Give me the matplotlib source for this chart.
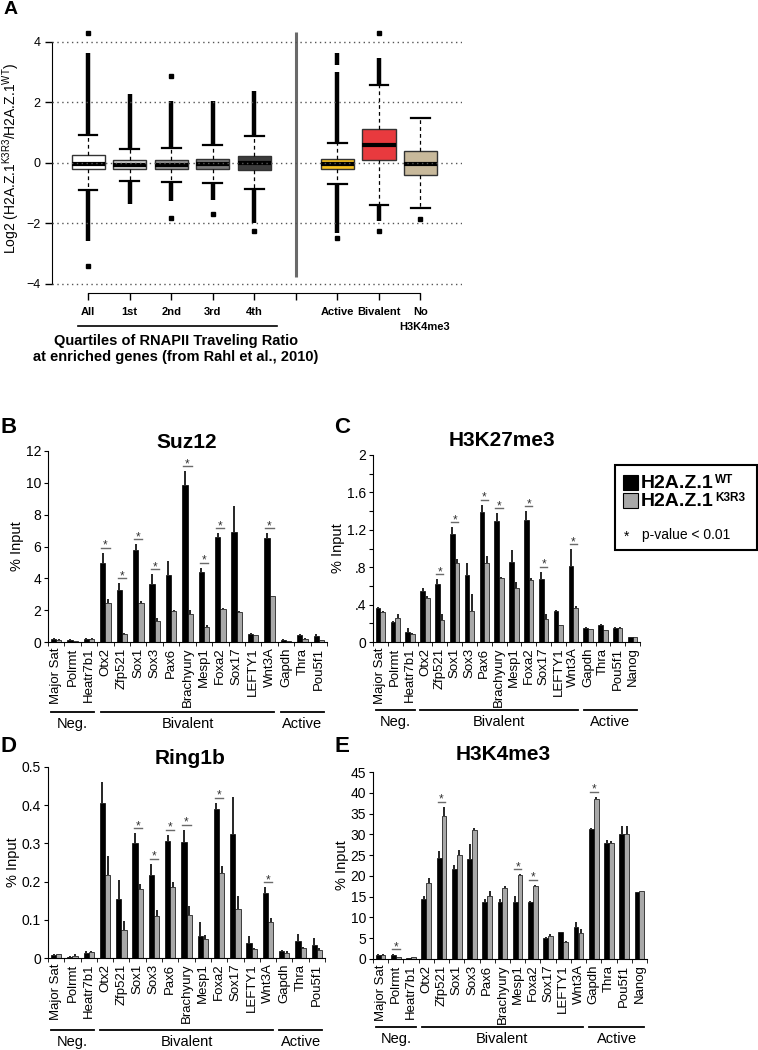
import numpy as np
import matplotlib
matplotlib.use('Agg')
import matplotlib.pyplot as plt
from matplotlib.patches import Rectangle
from matplotlib.text import Annotation
from matplotlib.transforms import blended_transform_factory, offset_copy

plt.rcParams['font.family'] = ['Liberation Sans', 'DejaVu Sans']
plt.rcParams['mathtext.fontset'] = 'custom'
plt.rcParams['mathtext.rm'] = 'Liberation Sans'
plt.rcParams['mathtext.bf'] = 'Liberation Sans:bold'

W, H = 758, 1050

# ---------------- panel A : boxplots ----------------
box_names = ['All', '1st', '2nd', '3rd', '4th', 'Active', 'Bivalent', 'No\nH3K4me3']
box_pos = [1, 2, 3, 4, 5, 7, 8, 9]
q1 = [-0.22, -0.20, -0.22, -0.22, -0.23, -0.22, 0.09, -0.41]
med = [-0.03, -0.08, -0.08, -0.05, -0.02, -0.05, 0.58, -0.04]
q3 = [0.25, 0.08, 0.09, 0.11, 0.22, 0.14, 1.10, 0.38]
whislo = [-0.90, -0.60, -0.63, -0.66, -0.88, -0.71, -1.40, -1.50]
whishi = [0.93, 0.47, 0.49, 0.60, 0.87, 0.66, 2.58, 1.48]
# dense outlier runs (lo, hi) and isolated outliers
out_runs = [[(0.93, 3.63), (-2.58, -0.90)],
            [(0.47, 2.27), (-1.35, -0.60)],
            [(0.49, 2.03), (-1.26, -0.63)],
            [(0.60, 2.05), (-1.23, -0.66)],
            [(0.87, 2.38), (-1.98, -0.88)],
            [(0.66, 2.99), (3.24, 3.63), (-2.31, -0.71)],
            [(2.58, 3.46), (-1.92, -1.40)],
            []]
out_pts = [[4.29, -3.41], [], [2.88, -1.81], [-1.70], [-2.25], [-2.50], [4.29, -2.25], [-1.87]]
box_colors = ['white', '#d6d6d6', '#9c9c9c', '#7a7a7a', '#3c3c3c', '#f5c020', '#e83a3e', '#c8b99b']
a_yticks = [-4, -2, 0, 2, 4]

# ---------------- bar panels ----------------
genes = ['Major Sat', 'Polrmt', 'Heatr7b1', 'Otx2', 'Zfp521', 'Sox1', 'Sox3', 'Pax6',
         'Brachyury', 'Mesp1', 'Foxa2', 'Sox17', 'LEFTY1', 'Wnt3A', 'Gapdh', 'Thra', 'Pou5f1']
genes_n = genes + ['Nanog']
group_names = ['Neg.', 'Bivalent', 'Active']

# B  Suz12
suz_wt = [0.20, 0.12, 0.20, 4.98, 3.25, 5.80, 3.66, 4.23, 9.84, 4.38, 6.60, 6.91, 0.52, 6.51, 0.15, 0.45, 0.40]
suz_wt_err = [0.05, 0.04, 0.05, 0.62, 0.45, 0.33, 0.59, 0.84, 0.88, 0.29, 0.25, 1.61, 0.06, 0.34, 0.03, 0.05, 0.10]
suz_ko = [0.15, 0.07, 0.20, 2.47, 0.52, 2.47, 1.32, 1.95, 1.74, 0.94, 2.09, 1.88, 0.42, 2.87, 0.07, 0.20, 0.10]
suz_ko_err = [0.02, 0.02, 0.02, 0.21, 0.06, 0.13, 0.21, 0.03, 0.29, 0.11, 0.03, 0.04, 0.03, 0.03, 0.02, 0.03, 0.03]
suz_star = ['Otx2', 'Zfp521', 'Sox1', 'Sox3', 'Brachyury', 'Mesp1', 'Foxa2', 'Wnt3A']

# C  H3K27me3
k27_wt = [0.36, 0.21, 0.11, 0.55, 0.62, 1.16, 0.72, 1.39, 1.29, 0.86, 1.30, 0.67, 0.33, 0.81, 0.15, 0.18, 0.15, 0.05]
k27_wt_err = [0.01, 0.01, 0.04, 0.03, 0.05, 0.07, 0.13, 0.08, 0.09, 0.12, 0.10, 0.08, 0.01, 0.18, 0.01, 0.01, 0.01, 0.0]
k27_ko = [0.32, 0.26, 0.09, 0.47, 0.24, 0.84, 0.33, 0.84, 0.68, 0.58, 0.66, 0.25, 0.18, 0.36, 0.14, 0.13, 0.15, 0.05]
k27_ko_err = [0.01, 0.04, 0.01, 0.02, 0.06, 0.05, 0.18, 0.08, 0.02, 0.06, 0.02, 0.05, 0.0, 0.03, 0.0, 0.0, 0.01, 0.0]
k27_star = ['Zfp521', 'Sox1', 'Pax6', 'Brachyury', 'Foxa2', 'Sox17', 'Wnt3A']

# D  Ring1b
ring_wt = [0.009, 0.003, 0.012, 0.407, 0.155, 0.300, 0.216, 0.305, 0.303, 0.057, 0.391, 0.325, 0.039, 0.170, 0.019, 0.044, 0.035]
ring_wt_err = [0.001, 0.001, 0.006, 0.053, 0.050, 0.026, 0.031, 0.018, 0.033, 0.036, 0.016, 0.096, 0.019, 0.016, 0.002, 0.019, 0.017]
ring_ko = [0.010, 0.006, 0.016, 0.218, 0.074, 0.181, 0.109, 0.185, 0.113, 0.050, 0.222, 0.127, 0.024, 0.094, 0.014, 0.027, 0.020]
ring_ko_err = [0.001, 0.004, 0.002, 0.048, 0.024, 0.014, 0.016, 0.014, 0.022, 0.011, 0.018, 0.034, 0.002, 0.012, 0.004, 0.002, 0.005]
ring_star = ['Sox1', 'Sox3', 'Pax6', 'Brachyury', 'Foxa2', 'Wnt3A']

# E  H3K4me3
k4_wt = [0.97, 1.0, 0.3, 14.4, 24.3, 21.7, 24.1, 13.8, 13.6, 13.6, 13.6, 5.0, 6.4, 7.7, 31.3, 27.9, 30.2, 16.1]
k4_wt_err = [0.2, 0.2, 0.05, 0.7, 1.8, 1.0, 3.6, 0.7, 0.9, 1.6, 0.4, 0.2, 0.2, 1.1, 0.2, 0.8, 1.8, 0.0]
k4_ko = [0.97, 0.5, 0.4, 18.3, 34.4, 25.1, 31.1, 15.1, 17.1, 20.2, 17.5, 5.6, 4.2, 6.2, 38.6, 27.9, 30.2, 16.4]
k4_ko_err = [0.2, 0.1, 0.05, 1.3, 2.2, 1.1, 0.5, 1.2, 0.4, 0.2, 0.4, 0.4, 0.1, 1.0, 0.4, 0.6, 1.8, 0.0]
k4_star = ['Polrmt', 'Zfp521', 'Mesp1', 'Foxa2', 'Gapdh']

b_ticks = [0, 2, 4, 6, 8, 10, 12]
c_ticks = [0, 0.2, 0.4, 0.6, 0.8, 1.0, 1.2, 1.4, 1.6, 1.8, 2.0]
c_ticklabels = ['0', '', '.4', '', '.8', '', '1.2', '', '1.6', '', '2']
d_ticks = [0, 0.1, 0.2, 0.3, 0.4, 0.5]
e_ticks = [0, 5, 10, 15, 20, 25, 30, 35, 40, 45]


def px_rect(x0, y0, x1, y1):
    return [x0 / W, 1 - y1 / H, (x1 - x0) / W, (y1 - y0) / H]


def ftext(x, y, s, **kw):
    return fig.text(x / W, 1 - y / H, s, **kw)


fig = plt.figure(figsize=(W / 100, H / 100), dpi=100)

# ================= panel A =================
ax = fig.add_axes(px_rect(52, 28, 462, 293))
stats = []
for i in range(len(box_pos)):
    stats.append(dict(q1=q1[i], med=med[i], q3=q3[i], whislo=whislo[i], whishi=whishi[i],
                      fliers=out_pts[i]))
bp = ax.bxp(stats, positions=box_pos, widths=0.8, patch_artist=True, showfliers=True,
            capwidths=0.45,
            boxprops=dict(edgecolor='#333333', linewidth=1.0),
            medianprops=dict(color='black', linewidth=3),
            whiskerprops=dict(color='black', linewidth=0.9, linestyle=(0, (3, 2.5))),
            capprops=dict(color='black', linewidth=1.6),
            flierprops=dict(marker='s', markersize=3.5, markerfacecolor='black',
                            markeredgecolor='black'))
for patch, c in zip(bp['boxes'], box_colors):
    patch.set_facecolor(c)
for p, runs in zip(box_pos, out_runs):
    for lo, hi in runs:
        ax.vlines(p, lo, hi, color='black', lw=3.2)
for y in a_yticks:
    ax.axhline(y, color='#555555', lw=1.0, ls=(0, (1, 2.5)), zorder=5)
ax.vlines(6, -3.78, 4.32, color='#6a6a6a', lw=2.2)
ax.set_xlim(0.13, 10.0)
ax.set_ylim(-4.3, 4.45)
ax.spines['top'].set_visible(False)
ax.spines['right'].set_visible(False)
ax.spines['left'].set_bounds(-4, 4)
ax.spines['bottom'].set_bounds(1, 9)
ax.set_yticks(a_yticks)
ax.set_yticklabels([str(v).replace('-', '\u2212') for v in a_yticks], fontsize=9)
# first line of each name goes on the tick, a second line (if any) sits below it
first_lines = [n.split('\n')[0] for n in box_names]
ax.set_xticks([1, 2, 3, 4, 5, 6, 7, 8, 9])
ax.set_xticklabels(first_lines[:5] + [''] + first_lines[5:], fontsize=8, fontweight='bold')
trA = blended_transform_factory(ax.transData, fig.transFigure)
for p, n in zip(box_pos, box_names):
    if '\n' in n:
        ax.text(p + 0.1, 1 - 327 / H, n.split('\n')[1], transform=trA, ha='center',
                va='center', fontsize=8, fontweight='bold')
ax.tick_params(axis='both', direction='out', length=5, width=1)
ax.tick_params(axis='x', pad=5)
ftext(11, 158, r'Log2 (H2A.Z.1$^{\mathrm{K3R3}}$/H2A.Z.1$^{\mathrm{WT}}$)', fontsize=10,
      rotation=90, ha='center', va='center')

fig.add_artist(plt.Line2D([78 / W, 277 / W], [1 - 326 / H, 1 - 326 / H], color='black', lw=1.2))
ftext(176, 341, 'Quartiles of RNAPII Traveling Ratio', fontsize=10.5, fontweight='bold',
      ha='center', va='center')
ftext(176, 357, 'at enriched genes (from Rahl et al., 2010)', fontsize=10.5, fontweight='bold',
      ha='center', va='center')
ftext(11, 10, 'A', fontsize=14, fontweight='bold', ha='center', va='center')


# ================= bar panels =================
def bar_panel(rect, names, wt, wt_err, ko, ko_err, starred, ticks, ticklabels, title,
              title_xy, letter, letter_xy, line_y, text_y):
    ax = fig.add_axes(px_rect(*rect))
    x = np.arange(len(names))
    ax.bar(x - 0.16, wt, width=0.32, color='black', edgecolor='black', lw=0.5, zorder=2)
    ax.bar(x + 0.16, ko, width=0.32, color='#a8a8a8', edgecolor='black', lw=0.5, zorder=2)
    ax.vlines(x - 0.16, wt, np.array(wt) + np.array(wt_err), color='black', lw=1.2, zorder=3)
    ax.vlines(x + 0.16, ko, np.array(ko) + np.array(ko_err), color='black', lw=1.2, zorder=3)
    tr_line = offset_copy(ax.transData, fig=fig, y=5, units='dots')
    tr_star = offset_copy(ax.transData, fig=fig, y=4, units='dots')
    for g in starred:
        i = names.index(g)
        top = max(wt[i] + wt_err[i], ko[i] + ko_err[i])
        ax.plot([i - 0.25, i + 0.25], [top, top], color='#6a6a6a', lw=1.0,
                transform=tr_line, clip_on=False)
        ax.text(i, top, '*', transform=tr_star, ha='center', va='baseline',
                fontsize=8.5, color='#333333')
    ax.set_xlim(-0.5, len(names) - 0.5)
    ax.set_ylim(ticks[0], ticks[-1])
    ax.spines['top'].set_visible(False)
    ax.spines['right'].set_visible(False)
    ax.set_yticks(ticks)
    ax.set_yticklabels(ticklabels, fontsize=10)
    ax.set_xticks(x)
    ax.set_xticklabels(names, rotation=90, fontsize=9.5)
    ax.set_xticks(np.arange(len(names) + 1) - 0.5, minor=True)
    ax.tick_params(axis='x', which='major', length=0, pad=4)
    ax.tick_params(axis='x', which='minor', length=3, direction='out')
    ax.tick_params(axis='y', length=3, direction='out', pad=2)
    ax.set_ylabel('% Input', fontsize=10.5, labelpad=1)
    ftext(title_xy[0], title_xy[1], title, fontsize=15, fontweight='bold',
          ha='center', va='center')
    ftext(letter_xy[0], letter_xy[1], letter, fontsize=16, fontweight='bold', ha='center', va='center')
    # group brackets
    tr = blended_transform_factory(ax.transData, fig.transFigure)
    last = len(names) - 1
    spans = [(0, 2), (3, 13), (14, last)]
    for name, (a, b) in zip(group_names, spans):
        ax.plot([a - 0.3, b + 0.3], [1 - line_y / H] * 2, color='black', lw=1.3,
                transform=tr, clip_on=False)
        ax.text((a + b) / 2, 1 - text_y / H, name, transform=tr, ha='center', va='center',
                fontsize=10.5)
    return ax


bar_panel((48, 451, 327, 642), genes, suz_wt, suz_wt_err, suz_ko, suz_ko_err, suz_star,
          b_ticks, [str(t) for t in b_ticks], 'Suz12', (187, 442), 'B', (9, 428), 712, 724)
bar_panel((373, 455, 640, 642), genes_n, k27_wt, k27_wt_err, k27_ko, k27_ko_err, k27_star,
          c_ticks, c_ticklabels, 'H3K27me3', (502, 440), 'C', (342, 428), 710, 722)
bar_panel((48, 767, 325, 958), genes, ring_wt, ring_wt_err, ring_ko, ring_ko_err, ring_star,
          d_ticks, ['0', '0.1', '0.2', '0.3', '0.4', '0.5'], 'Ring1b', (190, 758), 'D', (9, 747), 1030, 1042)
bar_panel((373, 772, 647, 959), genes_n, k4_wt, k4_wt_err, k4_ko, k4_ko_err, k4_star,
          e_ticks, [str(t) for t in e_ticks], 'H3K4me3', (503, 755), 'E', (342, 747), 1027, 1039)

# ================= legend =================
fig.add_artist(Rectangle((615 / W, 1 - 550 / H), 142 / W, 85 / H, transform=fig.transFigure,
                         facecolor='white', edgecolor='black', lw=1.5))
fig.add_artist(Rectangle((623 / W, 1 - 490 / H), 15 / W, 15 / H, transform=fig.transFigure,
                         facecolor='black', edgecolor='black', lw=0.8))
fig.add_artist(Rectangle((623 / W, 1 - 508 / H), 15 / W, 15 / H, transform=fig.transFigure,
                         facecolor='#a8a8a8', edgecolor='black', lw=0.8))
for label, sup, y in [('H2A.Z.1', 'WT', 483), ('H2A.Z.1', 'K3R3', 501)]:
    main = ftext(641, y, label, fontsize=14, fontweight='bold', va='center')
    fig.add_artist(Annotation(sup, xy=(1.0, 1.04), xycoords=main, xytext=(1, 0),
                              textcoords='offset points', ha='left', va='top',
                              fontsize=8.5, fontweight='bold'))
ftext(627, 537, '*', fontsize=10, ha='center', va='center')
ftext(642, 535, 'p-value < 0.01', fontsize=10, va='center')

fig.savefig('out.png', dpi=100)
